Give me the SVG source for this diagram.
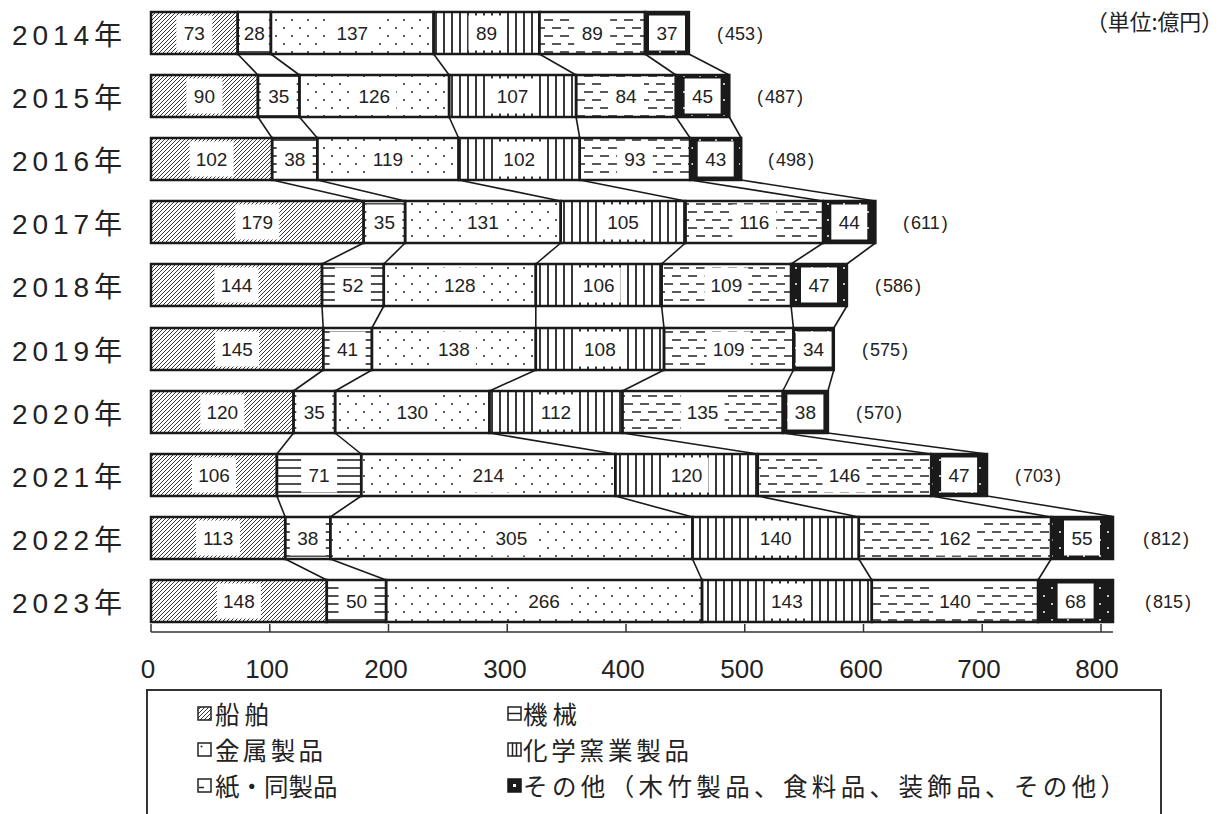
<svg xmlns="http://www.w3.org/2000/svg" width="1230" height="814" viewBox="0 0 1230 814">
<defs>
<pattern id="pShip" width="4" height="4" patternUnits="userSpaceOnUse"><path d="M-1,1 L1,-1 M0,4 L4,0 M3,5 L5,3" stroke="#222" stroke-width="0.9"/></pattern>
<pattern id="pMach" width="8" height="8" patternUnits="userSpaceOnUse"><path d="M0,4H8" stroke="#222" stroke-width="1.6"/></pattern>
<pattern id="pMetal" width="16" height="16" patternUnits="userSpaceOnUse"><circle cx="4" cy="4" r="1" fill="#222"/><circle cx="12" cy="12" r="1" fill="#222"/></pattern>
<pattern id="pChem" width="8" height="8" patternUnits="userSpaceOnUse"><path d="M4,0V8" stroke="#222" stroke-width="1.8"/></pattern>
<pattern id="pPaper" width="16" height="16" patternUnits="userSpaceOnUse"><path d="M0,4H9 M8,12H16 M0,12H1" stroke="#222" stroke-width="1.6"/></pattern>
<pattern id="pOther" width="16" height="16" patternUnits="userSpaceOnUse"><rect width="16" height="16" fill="#1a1a1a"/><circle cx="4" cy="4" r="1" fill="#fff"/><circle cx="12" cy="12" r="1" fill="#fff"/></pattern>
</defs>
<style>
.s{stroke:#1a1a1a;stroke-width:2.5}
.sh{fill:url(#pShip)} .ma{fill:url(#pMach)} .me{fill:url(#pMetal)} .ch{fill:url(#pChem)} .pa{fill:url(#pPaper)} .ot{fill:url(#pOther)}
.b{fill:#fff}
.v{font-family:"Liberation Sans",sans-serif;font-size:19px;text-anchor:middle;fill:#222}
.t{font-family:"Liberation Sans",sans-serif;font-size:18px;fill:#222}
.yr{font-family:"Liberation Sans","Noto Sans CJK JP",sans-serif;font-size:28px;fill:#222}
.ax{font-family:"Liberation Sans",sans-serif;font-size:26px;text-anchor:middle;fill:#222}
.lg{font-family:"Noto Sans CJK JP",sans-serif;font-size:24.5px;fill:#222}
.conn line{stroke:#1a1a1a;stroke-width:1.6}
</style>
<rect width="1230" height="814" fill="#fff"/>
<text x="1086" y="30" font-family="Noto Sans CJK JP, sans-serif" font-size="22" fill="#222" textLength="137" lengthAdjust="spacingAndGlyphs">（単位:億円）</text>

<g id="connectors" class="conn">
<line x1="237.7" y1="54" x2="257.9" y2="75"/><line x1="270.9" y1="54" x2="299.4" y2="75"/><line x1="433.6" y1="54" x2="449.1" y2="75"/><line x1="539.3" y1="54" x2="576.1" y2="75"/><line x1="645" y1="54" x2="675.9" y2="75"/><line x1="688.9" y1="54" x2="729.3" y2="75"/>
<line x1="257.9" y1="117" x2="272.1" y2="138"/><line x1="299.4" y1="117" x2="317.3" y2="138"/><line x1="449.1" y1="117" x2="458.6" y2="138"/><line x1="576.1" y1="117" x2="579.7" y2="138"/><line x1="675.9" y1="117" x2="690.1" y2="138"/><line x1="729.3" y1="117" x2="741.2" y2="138"/>
<line x1="272.1" y1="180" x2="363.6" y2="201"/><line x1="317.3" y1="180" x2="405.1" y2="201"/><line x1="458.6" y1="180" x2="560.7" y2="201"/><line x1="579.7" y1="180" x2="685.4" y2="201"/><line x1="690.1" y1="180" x2="823.1" y2="201"/><line x1="741.2" y1="180" x2="875.4" y2="201"/>
<line x1="363.6" y1="243" x2="322" y2="264"/><line x1="405.1" y1="243" x2="383.8" y2="264"/><line x1="560.7" y1="243" x2="535.8" y2="264"/><line x1="685.4" y1="243" x2="661.6" y2="264"/><line x1="823.1" y1="243" x2="791.1" y2="264"/><line x1="875.4" y1="243" x2="846.9" y2="264"/>
<line x1="322" y1="306" x2="323.2" y2="328"/><line x1="383.8" y1="306" x2="371.9" y2="328"/><line x1="535.8" y1="306" x2="535.8" y2="328"/><line x1="661.6" y1="306" x2="664" y2="328"/><line x1="791.1" y1="306" x2="793.4" y2="328"/><line x1="846.9" y1="306" x2="833.8" y2="328"/>
<line x1="323.2" y1="370" x2="293.5" y2="391"/><line x1="371.9" y1="370" x2="335.1" y2="391"/><line x1="535.8" y1="370" x2="489.4" y2="391"/><line x1="664" y1="370" x2="622.4" y2="391"/><line x1="793.4" y1="370" x2="782.8" y2="391"/><line x1="833.8" y1="370" x2="827.9" y2="391"/>
<line x1="293.5" y1="433" x2="276.9" y2="454"/><line x1="335.1" y1="433" x2="361.2" y2="454"/><line x1="489.4" y1="433" x2="615.3" y2="454"/><line x1="622.4" y1="433" x2="757.8" y2="454"/><line x1="782.8" y1="433" x2="931.2" y2="454"/><line x1="827.9" y1="433" x2="987" y2="454"/>
<line x1="276.9" y1="496" x2="285.2" y2="517"/><line x1="361.2" y1="496" x2="330.3" y2="517"/><line x1="615.3" y1="496" x2="692.5" y2="517"/><line x1="757.8" y1="496" x2="858.8" y2="517"/><line x1="931.2" y1="496" x2="1051.1" y2="517"/><line x1="987" y1="496" x2="1113" y2="516.5"/>
<line x1="285.2" y1="559" x2="326.8" y2="580"/><line x1="330.3" y1="559" x2="386.1" y2="580"/><line x1="692.5" y1="559" x2="702" y2="580"/><line x1="858.8" y1="559" x2="871.8" y2="580"/><line x1="1051.1" y1="559" x2="1038.1" y2="580"/>
</g>

<g id="y2014">
<text class="yr" x="12" y="45" textLength="110" lengthAdjust="spacing">2014年</text>
<rect class="s sh" x="151" y="12" width="86.7" height="42"/><rect class="b" x="176.3" y="15.5" width="36" height="35"/><text class="v" x="194.3" y="40">73</text>
<rect class="s ma" x="237.7" y="12" width="33.2" height="42"/><rect class="b" x="239.8" y="15.5" width="29" height="35"/><text class="v" x="254.3" y="40">28</text>
<rect class="s me" x="270.9" y="12" width="162.7" height="42"/><rect class="b" x="330.3" y="15.5" width="44" height="35"/><text class="v" x="352.3" y="40">137</text>
<rect class="s ch" x="433.6" y="12" width="105.7" height="42"/><rect class="b" x="468.5" y="15.5" width="36" height="35"/><text class="v" x="486.5" y="40">89</text>
<rect class="s pa" x="539.3" y="12" width="105.7" height="42"/><rect class="b" x="574.2" y="15.5" width="36" height="35"/><text class="v" x="592.2" y="40">89</text>
<rect class="s ot" x="645" y="12" width="43.9" height="42"/><rect class="b" x="649" y="15.5" width="36" height="35"/><text class="v" x="667" y="40">37</text>
<text class="t" x="717" y="40">(<tspan dx="2">453</tspan><tspan dx="2">)</tspan></text>
</g>

<g id="y2015">
<text class="yr" x="12" y="108" textLength="110" lengthAdjust="spacing">2015年</text>
<rect class="s sh" x="151" y="75" width="106.9" height="42"/><rect class="b" x="186.4" y="78.5" width="36" height="35"/><text class="v" x="204.4" y="103">90</text>
<rect class="s ma" x="257.9" y="75" width="41.5" height="42"/><rect class="b" x="260.7" y="78.5" width="36" height="35"/><text class="v" x="278.7" y="103">35</text>
<rect class="s me" x="299.4" y="75" width="149.7" height="42"/><rect class="b" x="352.3" y="78.5" width="44" height="35"/><text class="v" x="374.3" y="103">126</text>
<rect class="s ch" x="449.1" y="75" width="127" height="42"/><rect class="b" x="490.6" y="78.5" width="44" height="35"/><text class="v" x="512.6" y="103">107</text>
<rect class="s pa" x="576.1" y="75" width="99.8" height="42"/><rect class="b" x="608" y="78.5" width="36" height="35"/><text class="v" x="626" y="103">84</text>
<rect class="s ot" x="675.9" y="75" width="53.4" height="42"/><rect class="b" x="684.6" y="78.5" width="36" height="35"/><text class="v" x="702.6" y="103">45</text>
<text class="t" x="757" y="103">(<tspan dx="2">487</tspan><tspan dx="2">)</tspan></text>
</g>

<g id="y2016">
<text class="yr" x="12" y="171" textLength="110" lengthAdjust="spacing">2016年</text>
<rect class="s sh" x="151" y="138" width="121.1" height="42"/><rect class="b" x="189.6" y="141.5" width="44" height="35"/><text class="v" x="211.6" y="166">102</text>
<rect class="s ma" x="272.1" y="138" width="45.2" height="42"/><rect class="b" x="276.7" y="141.5" width="36" height="35"/><text class="v" x="294.7" y="166">38</text>
<rect class="s me" x="317.3" y="138" width="141.3" height="42"/><rect class="b" x="366" y="141.5" width="44" height="35"/><text class="v" x="388" y="166">119</text>
<rect class="s ch" x="458.6" y="138" width="121.1" height="42"/><rect class="b" x="497.2" y="141.5" width="44" height="35"/><text class="v" x="519.2" y="166">102</text>
<rect class="s pa" x="579.7" y="138" width="110.4" height="42"/><rect class="b" x="616.9" y="141.5" width="36" height="35"/><text class="v" x="634.9" y="166">93</text>
<rect class="s ot" x="690.1" y="138" width="51.1" height="42"/><rect class="b" x="697.7" y="141.5" width="36" height="35"/><text class="v" x="715.7" y="166">43</text>
<text class="t" x="768" y="166">(<tspan dx="2">498</tspan><tspan dx="2">)</tspan></text>
</g>

<g id="y2017">
<text class="yr" x="12" y="234" textLength="110" lengthAdjust="spacing">2017年</text>
<rect class="s sh" x="151" y="201" width="212.6" height="42"/><rect class="b" x="235.3" y="204.5" width="44" height="35"/><text class="v" x="257.3" y="229">179</text>
<rect class="s ma" x="363.6" y="201" width="41.5" height="42"/><rect class="b" x="366.4" y="204.5" width="36" height="35"/><text class="v" x="384.4" y="229">35</text>
<rect class="s me" x="405.1" y="201" width="155.6" height="42"/><rect class="b" x="460.9" y="204.5" width="44" height="35"/><text class="v" x="482.9" y="229">131</text>
<rect class="s ch" x="560.7" y="201" width="124.7" height="42"/><rect class="b" x="601.1" y="204.5" width="44" height="35"/><text class="v" x="623.1" y="229">105</text>
<rect class="s pa" x="685.4" y="201" width="137.7" height="42"/><rect class="b" x="732.3" y="204.5" width="44" height="35"/><text class="v" x="754.3" y="229">116</text>
<rect class="s ot" x="823.1" y="201" width="52.3" height="42"/><rect class="b" x="831.3" y="204.5" width="36" height="35"/><text class="v" x="849.3" y="229">44</text>
<text class="t" x="903" y="229">(<tspan dx="2">611</tspan><tspan dx="2">)</tspan></text>
</g>

<g id="y2018">
<text class="yr" x="12" y="297" textLength="110" lengthAdjust="spacing">2018年</text>
<rect class="s sh" x="151" y="264" width="171" height="42"/><rect class="b" x="214.5" y="267.5" width="44" height="35"/><text class="v" x="236.5" y="292">144</text>
<rect class="s ma" x="322" y="264" width="61.8" height="42"/><rect class="b" x="334.9" y="267.5" width="36" height="35"/><text class="v" x="352.9" y="292">52</text>
<rect class="s me" x="383.8" y="264" width="152" height="42"/><rect class="b" x="437.8" y="267.5" width="44" height="35"/><text class="v" x="459.8" y="292">128</text>
<rect class="s ch" x="535.8" y="264" width="125.8" height="42"/><rect class="b" x="576.7" y="267.5" width="44" height="35"/><text class="v" x="598.7" y="292">106</text>
<rect class="s pa" x="661.6" y="264" width="129.5" height="42"/><rect class="b" x="704.4" y="267.5" width="44" height="35"/><text class="v" x="726.4" y="292">109</text>
<rect class="s ot" x="791.1" y="264" width="55.8" height="42"/><rect class="b" x="801" y="267.5" width="36" height="35"/><text class="v" x="819" y="292">47</text>
<text class="t" x="875" y="292">(<tspan dx="2">586</tspan><tspan dx="2">)</tspan></text>
</g>

<g id="y2019">
<text class="yr" x="12" y="361" textLength="110" lengthAdjust="spacing">2019年</text>
<rect class="s sh" x="151" y="328" width="172.2" height="42"/><rect class="b" x="215.1" y="331.5" width="44" height="35"/><text class="v" x="237.1" y="356">145</text>
<rect class="s ma" x="323.2" y="328" width="48.7" height="42"/><rect class="b" x="329.6" y="331.5" width="36" height="35"/><text class="v" x="347.6" y="356">41</text>
<rect class="s me" x="371.9" y="328" width="163.9" height="42"/><rect class="b" x="431.9" y="331.5" width="44" height="35"/><text class="v" x="453.9" y="356">138</text>
<rect class="s ch" x="535.8" y="328" width="128.2" height="42"/><rect class="b" x="577.9" y="331.5" width="44" height="35"/><text class="v" x="599.9" y="356">108</text>
<rect class="s pa" x="664" y="328" width="129.4" height="42"/><rect class="b" x="706.7" y="331.5" width="44" height="35"/><text class="v" x="728.7" y="356">109</text>
<rect class="s ot" x="793.4" y="328" width="40.4" height="42"/><rect class="b" x="795.6" y="331.5" width="36" height="35"/><text class="v" x="813.6" y="356">34</text>
<text class="t" x="862" y="356">(<tspan dx="2">575</tspan><tspan dx="2">)</tspan></text>
</g>

<g id="y2020">
<text class="yr" x="12" y="424" textLength="110" lengthAdjust="spacing">2020年</text>
<rect class="s sh" x="151" y="391" width="142.5" height="42"/><rect class="b" x="200.3" y="394.5" width="44" height="35"/><text class="v" x="222.3" y="419">120</text>
<rect class="s ma" x="293.5" y="391" width="41.6" height="42"/><rect class="b" x="296.3" y="394.5" width="36" height="35"/><text class="v" x="314.3" y="419">35</text>
<rect class="s me" x="335.1" y="391" width="154.3" height="42"/><rect class="b" x="390.3" y="394.5" width="44" height="35"/><text class="v" x="412.3" y="419">130</text>
<rect class="s ch" x="489.4" y="391" width="133" height="42"/><rect class="b" x="533.9" y="394.5" width="44" height="35"/><text class="v" x="555.9" y="419">112</text>
<rect class="s pa" x="622.4" y="391" width="160.4" height="42"/><rect class="b" x="680.6" y="394.5" width="44" height="35"/><text class="v" x="702.6" y="419">135</text>
<rect class="s ot" x="782.8" y="391" width="45.1" height="42"/><rect class="b" x="787.4" y="394.5" width="36" height="35"/><text class="v" x="805.4" y="419">38</text>
<text class="t" x="856" y="419">(<tspan dx="2">570</tspan><tspan dx="2">)</tspan></text>
</g>

<g id="y2021">
<text class="yr" x="12" y="487" textLength="110" lengthAdjust="spacing">2021年</text>
<rect class="s sh" x="151" y="454" width="125.9" height="42"/><rect class="b" x="192" y="457.5" width="44" height="35"/><text class="v" x="214" y="482">106</text>
<rect class="s ma" x="276.9" y="454" width="84.3" height="42"/><rect class="b" x="301.1" y="457.5" width="36" height="35"/><text class="v" x="319.1" y="482">71</text>
<rect class="s me" x="361.2" y="454" width="254.1" height="42"/><rect class="b" x="466.3" y="457.5" width="44" height="35"/><text class="v" x="488.3" y="482">214</text>
<rect class="s ch" x="615.3" y="454" width="142.5" height="42"/><rect class="b" x="664.6" y="457.5" width="44" height="35"/><text class="v" x="686.6" y="482">120</text>
<rect class="s pa" x="757.8" y="454" width="173.4" height="42"/><rect class="b" x="822.5" y="457.5" width="44" height="35"/><text class="v" x="844.5" y="482">146</text>
<rect class="s ot" x="931.2" y="454" width="55.8" height="42"/><rect class="b" x="941.1" y="457.5" width="36" height="35"/><text class="v" x="959.1" y="482">47</text>
<text class="t" x="1015" y="482">(<tspan dx="2">703</tspan><tspan dx="2">)</tspan></text>
</g>

<g id="y2022">
<text class="yr" x="12" y="550" textLength="110" lengthAdjust="spacing">2022年</text>
<rect class="s sh" x="151" y="517" width="134.2" height="42"/><rect class="b" x="196.1" y="520.5" width="44" height="35"/><text class="v" x="218.1" y="545">113</text>
<rect class="s ma" x="285.2" y="517" width="45.1" height="42"/><rect class="b" x="289.8" y="520.5" width="36" height="35"/><text class="v" x="307.8" y="545">38</text>
<rect class="s me" x="330.3" y="517" width="362.2" height="42"/><rect class="b" x="489.4" y="520.5" width="44" height="35"/><text class="v" x="511.4" y="545">305</text>
<rect class="s ch" x="692.5" y="517" width="166.3" height="42"/><rect class="b" x="753.7" y="520.5" width="44" height="35"/><text class="v" x="775.7" y="545">140</text>
<rect class="s pa" x="858.8" y="517" width="192.3" height="42"/><rect class="b" x="933" y="520.5" width="44" height="35"/><text class="v" x="955" y="545">162</text>
<rect class="s ot" x="1051.1" y="517" width="61.9" height="42"/><rect class="b" x="1064" y="520.5" width="36" height="35"/><text class="v" x="1082" y="545">55</text>
<text class="t" x="1143" y="545">(<tspan dx="2">812</tspan><tspan dx="2">)</tspan></text>
</g>

<g id="y2023">
<text class="yr" x="12" y="613" textLength="110" lengthAdjust="spacing">2023年</text>
<rect class="s sh" x="151" y="580" width="175.8" height="42"/><rect class="b" x="216.9" y="583.5" width="44" height="35"/><text class="v" x="238.9" y="608">148</text>
<rect class="s ma" x="326.8" y="580" width="59.3" height="42"/><rect class="b" x="338.5" y="583.5" width="36" height="35"/><text class="v" x="356.5" y="608">50</text>
<rect class="s me" x="386.1" y="580" width="315.9" height="42"/><rect class="b" x="522.1" y="583.5" width="44" height="35"/><text class="v" x="544.1" y="608">266</text>
<rect class="s ch" x="702" y="580" width="169.8" height="42"/><rect class="b" x="764.9" y="583.5" width="44" height="35"/><text class="v" x="786.9" y="608">143</text>
<rect class="s pa" x="871.8" y="580" width="166.3" height="42"/><rect class="b" x="933" y="583.5" width="44" height="35"/><text class="v" x="955" y="608">140</text>
<rect class="s ot" x="1038.1" y="580" width="74.9" height="42"/><rect class="b" x="1057.6" y="583.5" width="36" height="35"/><text class="v" x="1075.6" y="608">68</text>
<text class="t" x="1145" y="608">(<tspan dx="2">815</tspan><tspan dx="2">)</tspan></text>
</g>

<g id="axis" stroke="#333" stroke-width="1.5">
<path d="M151,632H1113 M151,624V632 M269.75,624V632 M388.5,624V632 M507.25,624V632 M626,624V632 M744.75,624V632 M863.5,624V632 M982.25,624V632 M1101,624V632" fill="none"/>
</g>
<g id="axis-labels">
<text class="ax" x="148" y="678">0</text><text class="ax" x="267" y="678">100</text><text class="ax" x="386" y="678">200</text><text class="ax" x="505" y="678">300</text><text class="ax" x="623" y="678">400</text><text class="ax" x="742" y="678">500</text><text class="ax" x="861" y="678">600</text><text class="ax" x="979" y="678">700</text><text class="ax" x="1097" y="678">800</text>
</g>

<g id="legend">
<rect x="147" y="690" width="1014" height="140" fill="none" stroke="#333" stroke-width="2"/>
<g id="lg-ship"><rect x="198" y="707" width="13" height="13" fill="url(#pShip)" stroke="#222" stroke-width="1.5"/><text class="lg" x="215" y="724" textLength="54" lengthAdjust="spacing">船舶</text></g>
<g id="lg-mach"><rect x="508" y="707" width="13" height="13" fill="#fff" stroke="#222" stroke-width="1.5"/><path d="M508,713.5H521" stroke="#222" stroke-width="1.5"/><text class="lg" x="523" y="724" textLength="54" lengthAdjust="spacing">機械</text></g>
<g id="lg-metal"><rect x="198" y="743" width="13" height="13" fill="#fff" stroke="#222" stroke-width="1.5"/><circle cx="201.5" cy="746.5" r="1" fill="#222"/><text class="lg" x="215" y="760" textLength="108" lengthAdjust="spacing">金属製品</text></g>
<g id="lg-chem"><rect x="508" y="743" width="13" height="13" fill="#fff" stroke="#222" stroke-width="1.5"/><path d="M512.5,743V756 M516.5,743V756" stroke="#222" stroke-width="1.5"/><text class="lg" x="523" y="760" textLength="166" lengthAdjust="spacing">化学窯業製品</text></g>
<g id="lg-paper"><rect x="198" y="779" width="13" height="13" fill="#fff" stroke="#222" stroke-width="1.5"/><path d="M199,787.5H204" stroke="#222" stroke-width="1.5"/><text class="lg" x="215" y="796">紙・同製品</text></g>
<g id="lg-other"><rect x="508" y="779" width="13" height="13" fill="#1a1a1a" stroke="#1a1a1a" stroke-width="1.5"/><rect x="513" y="784" width="3" height="3" fill="#fff"/><text class="lg" x="523" y="796" textLength="602" lengthAdjust="spacing">その他（木竹製品、食料品、装飾品、その他）</text></g>
</g>
</svg>
